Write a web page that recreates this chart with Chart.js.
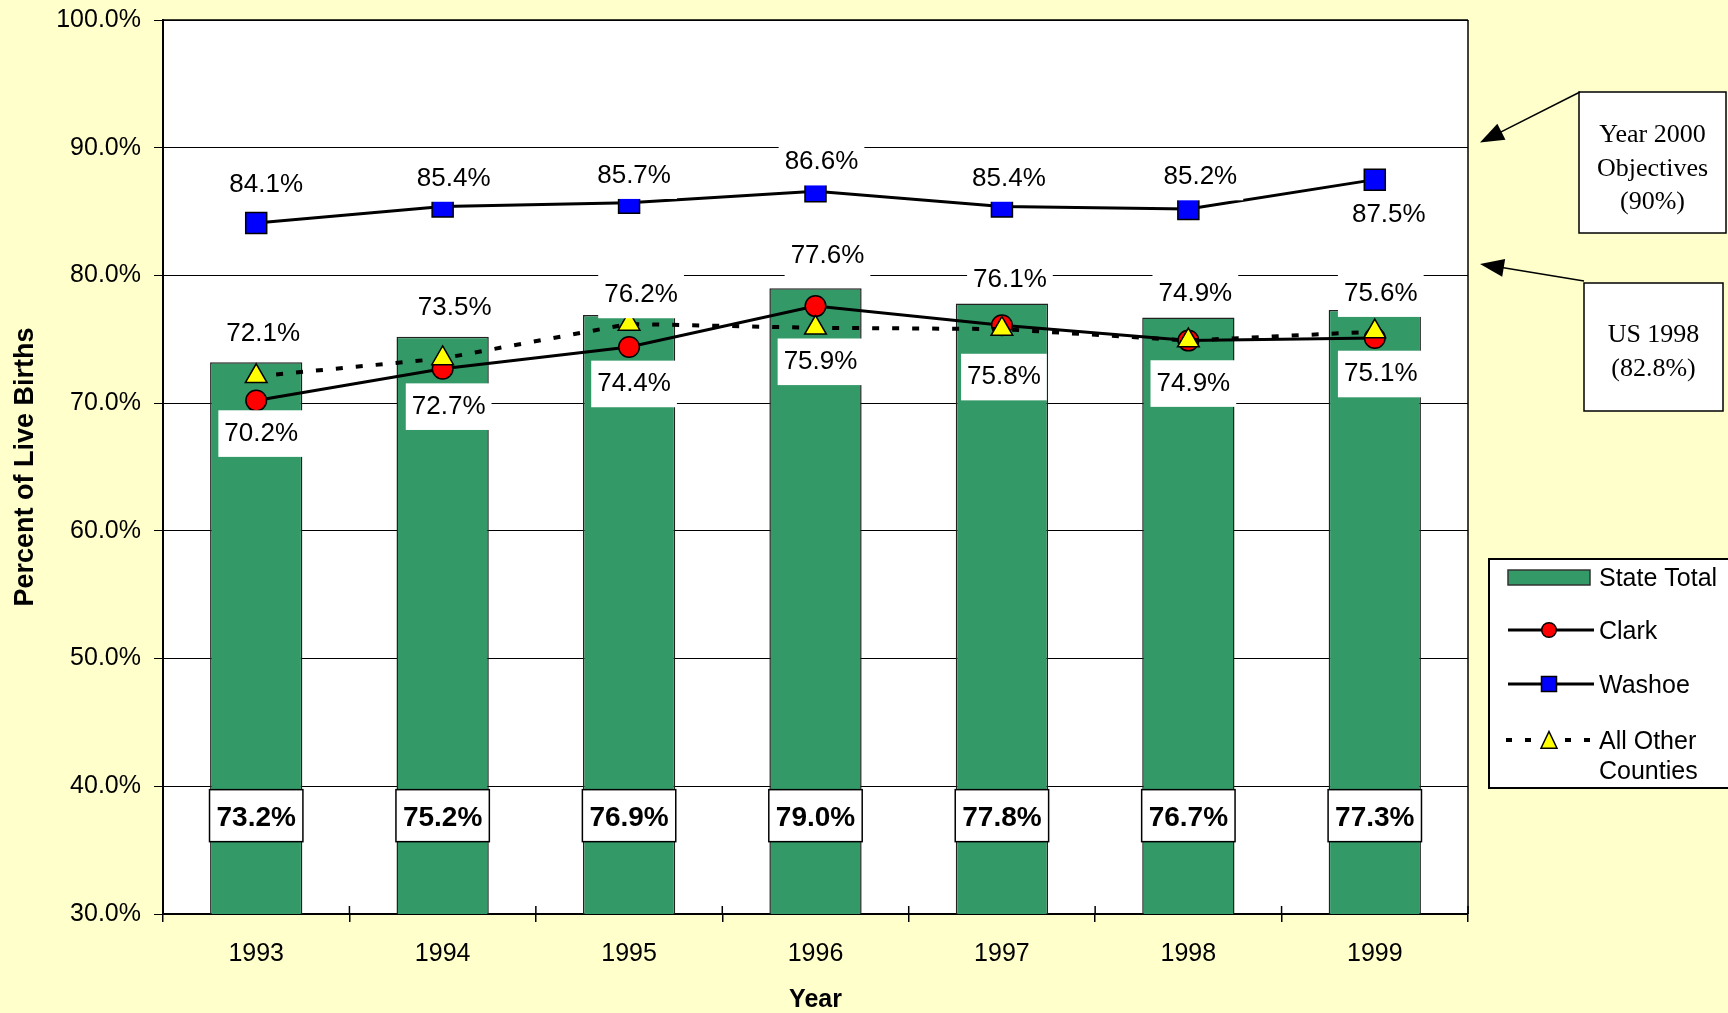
<!DOCTYPE html>
<html><head><meta charset="utf-8">
<script src="https://cdn.jsdelivr.net/npm/chart.js@4.4.0/dist/chart.umd.min.js"></script>
<style>html,body{margin:0;padding:0;background:#FFFFCC;overflow:hidden}#wrap{width:1728px;height:1013px}</style>
</head><body><div id="wrap"><canvas id="c" width="1728" height="1013"></canvas></div>
<script>
// ---- data ----
const years = ['1993','1994','1995','1996','1997','1998','1999'];
const stateTotal = [73.2, 75.2, 76.9, 79.0, 77.8, 76.7, 77.3];
const clark = [70.2, 72.7, 74.4, 77.6, 76.1, 74.9, 75.1];
const washoe = [84.1, 85.4, 85.7, 86.6, 85.4, 85.2, 87.5];
const otherCounties = [72.1, 73.5, 76.2, 75.9, 75.8, 74.9, 75.6];
const yTicks = [30, 40, 50, 60, 70, 80, 90, 100];
const objectiveLines = ['Year 2000', 'Objectives', '(90%)'];
const usLines = ['US 1998', '(82.8%)'];

// ---- styling (label nudges in px from each point) ----
const SANS = "'Liberation Sans', Arial, sans-serif";
const SERIF = "'Liberation Serif', 'Times New Roman', serif";
const nudges = {
  washoe: [[10,-40],[11,-30],[5,-29],[6,-31],[7,-30],[12,-34],[14,33]],
  clark:  [[5,31],[6,36],[5,35],[12,-52],[8,-48],[5,41],[6,34]],
  other:  [[7,-45],[12,-53],[12,-31],[5,32],[2,46],[7,-49],[6,-40]]
};

const bgPlugin = {
  id: 'bg',
  beforeDraw(chart) {
    const {ctx, chartArea: a} = chart;
    ctx.save();
    ctx.fillStyle = '#FFFFCC'; ctx.fillRect(0, 0, chart.width, chart.height);
    ctx.fillStyle = '#FFFFFF'; ctx.fillRect(a.left, a.top, a.right - a.left, a.bottom - a.top);
    ctx.restore();
  },
  beforeDatasetsDraw(chart) {
    const {ctx, chartArea: a} = chart;
    ctx.save();
    ctx.strokeStyle = '#000'; ctx.lineWidth = 1.5;
    ctx.beginPath(); ctx.moveTo(a.right, a.top); ctx.lineTo(a.right, a.bottom); ctx.stroke();
    ctx.beginPath(); ctx.moveTo(a.left, a.top); ctx.lineTo(a.right, a.top); ctx.stroke();
    // inner half of x tick marks at category boundaries
    const n = years.length;
    for (let i = 0; i <= n; i++) {
      const px = a.left + (a.right - a.left) * i / n;
      ctx.beginPath(); ctx.moveTo(px, a.bottom - 8); ctx.lineTo(px, a.bottom); ctx.stroke();
    }
    ctx.restore();
  }
};

function boxLabel(ctx, text, cx, cy, font, capH, padX, padTop, padBot, border) {
  ctx.font = font;
  const w = ctx.measureText(text).width;
  const x0 = cx - w / 2 - padX, y0 = cy - capH / 2 - padTop;
  const bw = w + 2 * padX, bh = capH + padTop + padBot;
  ctx.fillStyle = '#FFFFFF';
  ctx.fillRect(x0, y0, bw, bh);
  if (border) { ctx.strokeStyle = '#000'; ctx.lineWidth = 1.5; ctx.strokeRect(x0, y0, bw, bh); }
  ctx.fillStyle = '#000';
  ctx.textAlign = 'center'; ctx.textBaseline = 'alphabetic';
  ctx.fillText(text, cx, cy + capH / 2);
}

const labelPlugin = {
  id: 'labels',
  afterDatasetsDraw(chart) {
    const {ctx, scales: {y}} = chart;
    ctx.save();
    const map = [[1, 'washoe'], [2, 'clark'], [3, 'other']];
    map.forEach(([di, key]) => {
      const meta = chart.getDatasetMeta(di);
      const vals = chart.data.datasets[di].data;
      meta.data.forEach((pt, i) => {
        const [dx, dy] = nudges[key][i];
        boxLabel(ctx, vals[i].toFixed(1) + '%', pt.x + dx, pt.y + dy, '26px ' + SANS, 18.6, 6, 12, 16, false);
      });
    });
    const barMeta = chart.getDatasetMeta(0);
    const ly = y.getPixelForValue(37.7);
    barMeta.data.forEach((bar, i) => {
      boxLabel(ctx, stateTotal[i].toFixed(1) + '%', bar.x, ly, 'bold 28px ' + SANS, 20, 7, 16, 16, true);
    });
    ctx.restore();
  }
};

function arrow(ctx, x1, y1, x2, y2) {
  const ang = Math.atan2(y2 - y1, x2 - x1);
  const L = 24, H = 9;
  ctx.beginPath(); ctx.moveTo(x1, y1);
  ctx.lineTo(x2 - Math.cos(ang) * L * 0.8, y2 - Math.sin(ang) * L * 0.8); ctx.stroke();
  ctx.beginPath();
  ctx.moveTo(x2, y2);
  ctx.lineTo(x2 - Math.cos(ang) * L - Math.sin(ang) * H, y2 - Math.sin(ang) * L + Math.cos(ang) * H);
  ctx.lineTo(x2 - Math.cos(ang) * L + Math.sin(ang) * H, y2 - Math.sin(ang) * L - Math.cos(ang) * H);
  ctx.closePath(); ctx.fill();
}

const annotPlugin = {
  id: 'annot',
  afterDraw(chart) {
    const {ctx, chartArea: a, scales: {y}} = chart;
    ctx.save();
    ctx.strokeStyle = '#000'; ctx.fillStyle = '#000'; ctx.lineWidth = 1.5;
    // box 1
    const b1 = {x: a.right + 111, y: 92, w: 147, h: 141};
    ctx.fillStyle = '#FFF'; ctx.fillRect(b1.x, b1.y, b1.w, b1.h);
    ctx.strokeRect(b1.x, b1.y, b1.w, b1.h);
    ctx.fillStyle = '#000';
    ctx.font = '26px ' + SERIF; ctx.textAlign = 'center'; ctx.textBaseline = 'alphabetic';
    objectiveLines.forEach((t, i) => ctx.fillText(t, b1.x + b1.w / 2, 142 + i * 33.7));
    arrow(ctx, b1.x + 1, b1.y, a.right + 12, y.getPixelForValue(90.4));
    // box 2
    const b2 = {x: a.right + 116, y: 283, w: 139, h: 128};
    ctx.fillStyle = '#FFF'; ctx.fillRect(b2.x, b2.y, b2.w, b2.h);
    ctx.strokeRect(b2.x, b2.y, b2.w, b2.h);
    ctx.fillStyle = '#000';
    usLines.forEach((t, i) => ctx.fillText(t, b2.x + b2.w / 2, 342 + i * 33.5));
    arrow(ctx, b2.x, b2.y - 2, a.right + 12, y.getPixelForValue(80.9));
    ctx.restore();
  }
};

const legendPlugin = {
  id: 'customLegend',
  afterDraw(chart) {
    const {ctx} = chart;
    const ds = chart.data.datasets;
    ctx.save();
    const L = 1489, T = 559, B = 788;
    ctx.fillStyle = '#FFF'; ctx.fillRect(L, T, 1740 - L, B - T);
    ctx.strokeStyle = '#000'; ctx.lineWidth = 2; ctx.strokeRect(L, T, 1740 - L, B - T);
    const sx1 = 1508, sx2 = 1594, cx = 1549, tx = 1599;
    ctx.font = '25px ' + SANS; ctx.textAlign = 'left'; ctx.textBaseline = 'alphabetic';
    // State Total
    ctx.fillStyle = ds[0].backgroundColor; ctx.fillRect(sx1, 570, 82, 15);
    ctx.strokeStyle = '#333'; ctx.lineWidth = 1.5; ctx.strokeRect(sx1, 570, 82, 15);
    ctx.fillStyle = '#000'; ctx.fillText(ds[0].label, tx, 586);
    // Clark
    ctx.strokeStyle = '#000'; ctx.lineWidth = 3;
    ctx.beginPath(); ctx.moveTo(sx1, 630); ctx.lineTo(sx2, 630); ctx.stroke();
    ctx.fillStyle = ds[2].pointBackgroundColor; ctx.lineWidth = 1.5;
    ctx.beginPath(); ctx.arc(cx, 630, 7.3, 0, Math.PI * 2); ctx.fill(); ctx.stroke();
    ctx.fillStyle = '#000'; ctx.fillText(ds[2].label, tx, 639);
    // Washoe
    ctx.lineWidth = 3;
    ctx.beginPath(); ctx.moveTo(sx1, 684); ctx.lineTo(sx2, 684); ctx.stroke();
    ctx.fillStyle = ds[1].pointBackgroundColor; ctx.lineWidth = 1.5;
    ctx.fillRect(cx - 7.5, 676.5, 15, 15); ctx.strokeRect(cx - 7.5, 676.5, 15, 15);
    ctx.fillStyle = '#000'; ctx.fillText(ds[1].label, tx, 693);
    // All Other Counties
    ctx.lineWidth = 4; ctx.setLineDash([6, 13]);
    ctx.beginPath(); ctx.moveTo(sx1 - 2, 740); ctx.lineTo(cx - 10, 740); ctx.stroke();
    ctx.beginPath(); ctx.moveTo(cx + 16, 740); ctx.lineTo(sx2 + 6, 740); ctx.stroke();
    ctx.setLineDash([]);
    ctx.fillStyle = ds[3].pointBackgroundColor; ctx.lineWidth = 1.5;
    ctx.beginPath(); ctx.moveTo(cx, 731.5); ctx.lineTo(cx + 8, 748.3); ctx.lineTo(cx - 8, 748.3); ctx.closePath();
    ctx.fill(); ctx.stroke();
    ctx.fillStyle = '#000';
    ctx.fillText('All Other', tx, 749); ctx.fillText('Counties', tx, 779);
    ctx.restore();
  }
};

new Chart(document.getElementById('c'), {
  type: 'bar',
  data: {
    labels: years,
    datasets: [
      {type: 'bar', label: 'State Total', data: stateTotal, backgroundColor: '#339966',
       borderColor: '#222', borderWidth: 1.5, barPercentage: 0.495, categoryPercentage: 1, order: 4},
      {type: 'line', label: 'Washoe', data: washoe, borderColor: '#000', borderWidth: 3, tension: 0,
       pointStyle: 'rect', pointRadius: 14.85, pointBackgroundColor: '#0000FF', pointBorderColor: '#000',
       pointBorderWidth: 1.5, order: 3},
      {type: 'line', label: 'Clark', data: clark, borderColor: '#000', borderWidth: 3, tension: 0,
       pointStyle: 'circle', pointRadius: 10.3, pointBackgroundColor: '#FF0000', pointBorderColor: '#000',
       pointBorderWidth: 1.5, order: 2},
      {type: 'line', label: 'All Other Counties', data: otherCounties, borderColor: '#000', borderWidth: 4,
       borderDash: [7, 13], tension: 0, pointStyle: 'triangle', pointRadius: 12.5,
       pointBackgroundColor: '#FFFF00', pointBorderColor: '#000', pointBorderWidth: 1.5, order: 1}
    ]
  },
  options: {
    responsive: false, animation: false, devicePixelRatio: 1,
    layout: {padding: {top: 20, right: 260, left: 0, bottom: 0}},
    plugins: {legend: {display: false}, tooltip: {enabled: false}},
    scales: {
      x: {
        grid: {display: true, drawOnChartArea: false, drawTicks: true, tickLength: 8, color: '#000', lineWidth: 1.5, offset: true},
        border: {display: true, color: '#000', width: 2},
        ticks: {font: {size: 25, family: SANS}, color: '#000', padding: 17},
        title: {display: true, text: 'Year', color: '#000', font: {size: 25, weight: 'bold', family: SANS, lineHeight: 1}, padding: {top: 0, bottom: 0}},
        afterFit(s) { s.height = 99; s.paddingLeft = 0; s.paddingRight = 0; }
      },
      y: {
        min: 30, max: 100,
        afterBuildTicks(s) { s.ticks = yTicks.map(v => ({value: v})); },
        ticks: {callback: v => Number(v).toFixed(1) + '%', font: {size: 25, family: SANS}, color: '#000', padding: 13},
        grid: {color: '#000', lineWidth: 1, tickLength: 9},
        border: {display: true, color: '#000', width: 2},
        title: {display: true, text: 'Percent of Live Births', color: '#000', font: {size: 27, weight: 'bold', family: SANS}, padding: {top: 9, bottom: 0}},
        afterFit(s) { s.width = 163; s.paddingTop = 0; s.paddingBottom = 0; }
      }
    }
  },
  plugins: [bgPlugin, labelPlugin, annotPlugin, legendPlugin]
});
</script></body></html>
